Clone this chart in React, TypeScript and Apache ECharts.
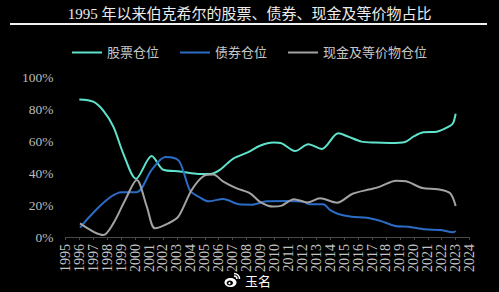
import React, { useEffect, useRef } from "react";
import * as echarts from "echarts";

const TITLE = "1995 年以来伯克希尔的股票、债券、现金及等价物占比";
const SERIES_NAMES = ["股票仓位", "债券仓位", "现金及等价物仓位"];
const X_MIN = 1995;
const X_MAX = 2024;

const stockYears = [1996.0, 1997.0, 1997.72, 1998.44, 1999.16, 2000.07, 2001.19, 2002.03, 2003.22, 2003.94, 2004.66, 2005.37, 2006.08, 2007.05, 2008.12, 2008.96, 2009.92, 2010.52, 2011.47, 2012.43, 2013.39, 2014.58, 2015.3, 2016.26, 2017.21, 2018.3, 2019.36, 2019.96, 2020.68, 2021.64, 2022.6, 2022.83, 2023.0];
const stockValues = [86, 84.6, 79, 69, 52, 36.4, 50.6, 42, 41, 40, 39.4, 39.4, 42, 49, 53, 57, 59, 58.5, 53.7, 58, 55, 64.8, 62.7, 59.6, 59, 58.8, 59.4, 62.7, 65.4, 65.8, 69.4, 71.5, 77];

const bondYears = [1996.05, 1999.04, 2000.12, 2001.19, 2002.18, 2003.15, 2003.94, 2004.6, 2005.25, 2006.33, 2007.46, 2008.37, 2009.44, 2010.88, 2012.07, 2012.55, 2013.5, 2013.98, 2014.58, 2015.54, 2016.62, 2017.57, 2018.65, 2019.6, 2020.8, 2021.88, 2022.83, 2023.0];
const bondValues = [5.8, 28, 28, 42, 50, 47.5, 29, 25, 22.3, 23.8, 20.4, 20.2, 22.3, 22.5, 22, 20.4, 20.4, 17, 14.4, 12.7, 12, 10.2, 6.9, 6.4, 4.8, 4.4, 3, 3.75];

const cashYears = [1996.05, 1997.72, 1998.44, 1999.28, 2000.12, 2000.84, 2001.43, 2002.38, 2003.1, 2004.06, 2004.9, 2005.61, 2006.33, 2007.29, 2008.25, 2008.96, 2009.9, 2010.52, 2011.4, 2012.37, 2013.27, 2014.49, 2015.6, 2016.85, 2017.57, 2018.72, 2019.44, 2020.62, 2021.7, 2022.59, 2023.0];
const cashValues = [8.5, 1.2, 8.5, 23, 35.6, 19, 5.4, 8.5, 12.7, 29.4, 38, 39, 34.6, 30.4, 27.3, 22, 19, 19.6, 23.6, 21.6, 24.2, 21.4, 27, 29.8, 31.5, 35.2, 34.8, 30.6, 29.9, 27.5, 19.4];

const COLORS = ["#5fe3cc", "#2c6cc4", "#a3a3a3"];
const SERIF = "'Liberation Serif', 'Noto Sans CJK SC', serif";

function pairs(xs: number[], ys: number[]) {
  return xs.map((x, i) => [x, ys[i]]);
}

export default function App() {
  const ref = useRef<HTMLDivElement>(null);
  useEffect(() => {
    if (!ref.current) return;
    const chart = echarts.init(ref.current, null, { renderer: "svg" });
    const datasets = [pairs(stockYears, stockValues), pairs(bondYears, bondValues), pairs(cashYears, cashValues)];
    chart.setOption({
      animation: false,
      backgroundColor: "#000000",
      title: {
        text: TITLE,
        left: "center",
        top: 1,
        textStyle: { color: "#ececec", fontSize: 15, fontWeight: "normal", fontFamily: SERIF },
      },
      legend: {
        data: SERIES_NAMES,
        top: 41,
        left: "center",
        icon: "rect",
        itemWidth: 30,
        itemHeight: 2,
        itemGap: 21,
        textStyle: { color: "#c8c8c8", fontSize: 13, fontFamily: SERIF },
      },
      grid: { left: 65.4, right: 29.4, top: 77, bottom: 55, containLabel: false },
      xAxis: {
        type: "value",
        min: X_MIN,
        max: X_MAX,
        interval: 1,
        splitLine: { show: false },
        axisLine: { show: true, lineStyle: { color: "#4a4a4a", width: 1 } },
        axisTick: { show: true, length: 3, lineStyle: { color: "#4a4a4a" } },
        axisLabel: {
          rotate: 90,
          margin: 7,
          color: "#c4c4c4",
          fontSize: 14,
          fontFamily: SERIF,
          formatter: (v: number) => String(Math.round(v)),
        },
      },
      yAxis: {
        type: "value",
        min: 0,
        max: 100,
        interval: 20,
        splitLine: { show: false },
        axisLine: { show: false },
        axisTick: { show: false },
        axisLabel: { color: "#bdbdbd", fontSize: 13.5, fontFamily: SERIF, margin: 12, formatter: "{value}%" },
      },
      series: SERIES_NAMES.map((name, i) => ({
        name,
        type: "line",
        data: datasets[i],
        smooth: 0.3,
        showSymbol: false,
        symbol: "none",
        color: COLORS[i],
        lineStyle: { width: 2, color: COLORS[i] },
      })),
      graphic: [
        { type: "line", shape: { x1: 10, y1: 24, x2: 487, y2: 24 }, style: { stroke: "#f0f0f0", lineWidth: 2 } },
        { type: "ellipse", shape: { cx: 230.5, cy: 282.5, rx: 6, ry: 4.6 }, style: { fill: "#ffffff" } },
        { type: "ellipse", shape: { cx: 229.8, cy: 283, rx: 3.2, ry: 2.5 }, style: { fill: "#000000" } },
        { type: "circle", shape: { cx: 229.5, cy: 283.2, r: 1.1 }, style: { fill: "#ffffff" } },
        { type: "arc", shape: { cx: 234, cy: 279, r: 3, startAngle: -Math.PI / 2, endAngle: 0 }, style: { stroke: "#ffffff", lineWidth: 1.4, fill: "none" } },
        { type: "arc", shape: { cx: 234, cy: 279, r: 5.5, startAngle: -Math.PI / 2, endAngle: 0 }, style: { stroke: "#ffffff", lineWidth: 1.4, fill: "none" } },
        {
          type: "text",
          x: 245,
          y: 280,
          style: { text: "玉名", fill: "#ffffff", fontSize: 13, fontFamily: "'Noto Sans CJK SC', sans-serif", textVerticalAlign: "middle" },
        },
      ],
    });
    return () => chart.dispose();
  }, []);
  return <div ref={ref} style={{ position: "fixed", left: 0, top: 0, width: 499, height: 292 }} />;
}
